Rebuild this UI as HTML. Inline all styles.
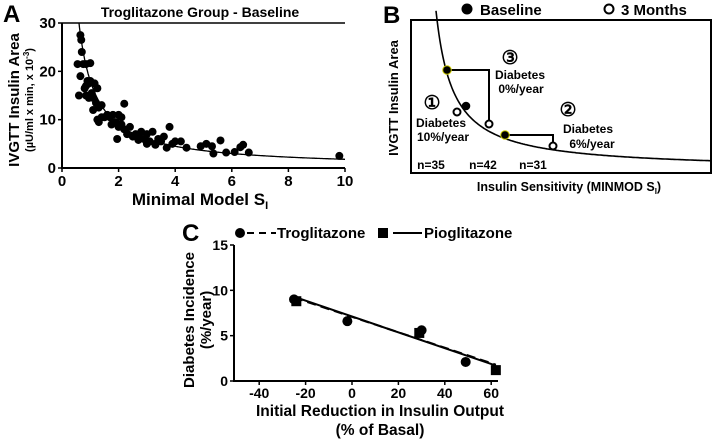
<!DOCTYPE html>
<html><head><meta charset="utf-8"><style>
body{margin:0;background:#fff;}
svg{display:block;font-family:"Liberation Sans",Arial,sans-serif;}
</style></head><body>
<svg id="fig" width="712" height="439" viewBox="0 0 712 439">
<!-- Panel A -->
<g id="pa">
<text x="3" y="22" font-size="24" font-weight="bold">A</text>
<text x="200" y="17" font-size="14" font-weight="bold" text-anchor="middle">Troglitazone Group - Baseline</text>
<path d="M62,23 V168 H345" fill="none" stroke="#000" stroke-width="2"/>
<line x1="62" y1="23" x2="345" y2="23" stroke="#000" stroke-width="1.5"/>
<g id="pa-ticks"></g>
<path id="pa-curve" fill="none" stroke="#000" stroke-width="1.3"/>
<g id="pa-pts"></g>
<text x="200" y="205" font-size="17" font-weight="bold" text-anchor="middle">Minimal Model S<tspan font-size="11" dy="4">I</tspan></text>
<text transform="translate(19,100) rotate(-90)" font-size="15" font-weight="bold" text-anchor="middle">IVGTT Insulin Area</text>
<text transform="translate(33,100) rotate(-90)" font-size="11" font-weight="bold" text-anchor="middle">(µU/ml x min, x 10<tspan font-size="8" dy="-4">-3</tspan><tspan dy="4">)</tspan></text>
</g>
<!-- Panel B -->
<g id="pb">
<text x="383" y="23" font-size="24" font-weight="bold">B</text>
<circle cx="467" cy="9" r="5.5" fill="#000"/>
<text x="480" y="15" font-size="15" font-weight="bold">Baseline</text>
<circle cx="609" cy="9" r="4.5" fill="#fff" stroke="#000" stroke-width="2"/>
<text x="621" y="15" font-size="15" font-weight="bold">3 Months</text>
<rect x="411" y="20" width="300" height="153" fill="none" stroke="#000" stroke-width="2"/>
<path id="pb-curve" fill="none" stroke="#000" stroke-width="1.6"/>
<path d="M447,70 H489 V124" fill="none" stroke="#000" stroke-width="2"/>
<path d="M505,135 H553 V146" fill="none" stroke="#000" stroke-width="2"/>
<circle cx="447" cy="70" r="4.3" fill="#000" stroke="#cc0" stroke-width="1"/>
<circle cx="466" cy="106" r="4.3" fill="#000"/>
<circle cx="505" cy="135" r="4.3" fill="#000" stroke="#cc0" stroke-width="1"/>
<circle cx="457" cy="112" r="3.5" fill="#fff" stroke="#000" stroke-width="2"/>
<circle cx="489" cy="124" r="3.5" fill="#fff" stroke="#000" stroke-width="2"/>
<circle cx="553" cy="146" r="3.5" fill="#fff" stroke="#000" stroke-width="2"/>
<g font-size="12" font-weight="bold" text-anchor="middle">
<text x="432" y="109" font-size="19">①</text>
<text x="441" y="127">Diabetes</text>
<text x="443" y="141">10%/year</text>
<text x="510" y="64" font-size="19">③</text>
<text x="520" y="79">Diabetes</text>
<text x="521" y="93">0%/year</text>
<text x="568" y="116" font-size="19">②</text>
<text x="588" y="133">Diabetes</text>
<text x="592" y="148">6%/year</text>
<text x="431" y="169">n=35</text>
<text x="483" y="169">n=42</text>
<text x="533" y="169">n=31</text>
</g>
<text x="569" y="191" font-size="12.5" font-weight="bold" text-anchor="middle">Insulin Sensitivity (MINMOD S<tspan font-size="8" dy="3">I</tspan><tspan dy="-3">)</tspan></text>
<text transform="translate(398,98) rotate(-90)" font-size="13" font-weight="bold" text-anchor="middle">IVGTT Insulin Area</text>
</g>
<!-- Panel C -->
<g id="pc">
<text x="182" y="241" font-size="24" font-weight="bold">C</text>
<circle cx="240" cy="233" r="5" fill="#000"/>
<line x1="247" y1="233" x2="276" y2="233" stroke="#000" stroke-width="2" stroke-dasharray="7,5"/>
<text x="277" y="238" font-size="15" font-weight="bold">Troglitazone</text>
<rect x="378" y="228" width="10" height="10" fill="#000"/>
<line x1="393" y1="233" x2="422" y2="233" stroke="#000" stroke-width="2"/>
<text x="424" y="238" font-size="15" font-weight="bold">Pioglitazone</text>
<path d="M234,245 V381 H498" fill="none" stroke="#000" stroke-width="2"/>
<g id="pc-ticks"></g>
<g id="pc-marks"></g>
<text x="380" y="416" font-size="15.5" font-weight="bold" text-anchor="middle">Initial Reduction in Insulin Output</text>
<text x="380" y="435" font-size="15.5" font-weight="bold" text-anchor="middle">(% of Basal)</text>
<text transform="translate(194,320) rotate(-90)" font-size="15" font-weight="bold" text-anchor="middle">Diabetes Incidence</text>
<text transform="translate(211,320) rotate(-90)" font-size="15" font-weight="bold" text-anchor="middle">(%/year)</text>
</g>
</svg>
<script>
// Panel A data
const aXTicks = [0, 2, 4, 6, 8, 10];
const aYTicks = [0, 10, 20, 30];
const aSi = [0.55,0.6,0.65,0.68,0.7,0.65,0.75,0.85,1.0,0.8,0.85,0.9,0.95,1.0,0.85,0.95,1.05,1.1,1.15,1.25,1.1,1.2,1.3,1.4,1.25,1.3,1.4,1.5,1.6,1.7,1.8,1.75,1.9,2.0,2.1,2.2,1.95,2.0,2.1,2.2,2.3,2.4,2.5,2.6,2.7,2.8,2.9,3.0,3.1,3.2,3.3,3.4,3.5,3.6,3.7,3.8,3.9,4.0,4.2,4.4,4.9,5.1,5.3,5.35,5.6,5.8,6.1,6.3,6.4,6.6,9.8,2.7,3.0,3.3];
const aArea = [21.5,15,27.5,26.5,24,19,21.5,21.5,21.7,16.5,17,18,17.5,18,15,14.5,15.5,14.5,17.5,16.5,12,13.5,12.5,13,10,9.5,10.5,10.5,11,10.5,11,9,9.5,11,10.5,13.3,6,8.5,9,8,7,8.5,6.5,7,6.5,7.5,6,7,5.5,7.5,5,6,5.5,6.5,4.2,8.5,5,5.5,5.5,4.2,4.5,5,4.5,3,5.7,3.2,3.3,4.3,4.8,3.2,2.5,5.8,5,4.8];
const aFitK = [18];
// Panel C data
const cXTicks = [-40, -20, 0, 20, 40, 60];
const cYTicks = [0, 5, 10, 15];
const trogX = [-25, -2, 30, 49];
const trogY = [9.0, 6.6, 5.6, 2.1];
const pioX = [-24, 29, 62];
const pioY = [8.8, 5.3, 1.2];
const trogLineX = [-25, 62];
const trogLineY = [9.2, 1.8];
const pioLineX = [-25, 62];
const pioLineY = [9.3, 1.7];

const NS = 'http://www.w3.org/2000/svg';
function mk(tag, attrs, parent) {
  const e = document.createElementNS(NS, tag);
  for (const k in attrs) e.setAttribute(k, attrs[k]);
  parent.appendChild(e);
  return e;
}
const ax = v => 62 + v * 28.3;
const ay = v => 168 - v * (145 / 30);
const cx = v => 352 + v * 2.32;
const cy = v => 381 - v * (136 / 15);

const paT = document.getElementById('pa-ticks');
aXTicks.forEach(t => {
  const l = mk('line', {x1: ax(t), x2: ax(t), y1: 168, y2: 172, stroke: '#000', 'stroke-width': 1.5}, paT);
  
  
  const tx = mk('text', {x: ax(t), y: 186, 'font-size': 15, 'font-weight': 'bold', 'text-anchor': 'middle'}, paT);
  tx.textContent = t;
  
  
});
aYTicks.forEach(t => {
  const l = mk('line', {x1: 58, x2: 62, y1: ay(t), y2: ay(t), stroke: '#000', 'stroke-width': 1.5}, paT);
  
  
  const tx = mk('text', {x: 56, y: ay(t) + 5, 'font-size': 15, 'font-weight': 'bold', 'text-anchor': 'end'}, paT);
  tx.textContent = t;
  
  
});
let d = '';
for (let x = aFitK[0] / 30; x <= 10; x += 0.02) d += (d ? 'L' : 'M') + ax(x).toFixed(1) + ',' + ay(aFitK[0] / x).toFixed(1);
document.getElementById('pa-curve').setAttribute('d', d);
const paP = document.getElementById('pa-pts');
aSi.forEach((x, i) => {
  const c = mk('circle', {cx: ax(x), cy: ay(aArea[i]), r: 4, fill: '#000'}, paP);
  
  
});

// Panel B curve
let db = '';
for (let x = 436; x <= 711; x += 1) db += (db ? 'L' : 'M') + x + ',' + (170 - 2707 / (x - 419)).toFixed(1);
document.getElementById('pb-curve').setAttribute('d', db);

// Panel C
const pcT = document.getElementById('pc-ticks');
cXTicks.forEach(t => {
  const l = mk('line', {x1: cx(t), x2: cx(t), y1: 381, y2: 385, stroke: '#000', 'stroke-width': 1.5}, pcT);
  
  
  const tx = mk('text', {x: cx(t), y: 398, 'font-size': 14, 'font-weight': 'bold', 'text-anchor': 'middle'}, pcT);
  tx.textContent = t;
  
  
});
cYTicks.forEach(t => {
  const l = mk('line', {x1: 230, x2: 234, y1: cy(t), y2: cy(t), stroke: '#000', 'stroke-width': 1.5}, pcT);
  
  
  const tx = mk('text', {x: 228, y: cy(t) + 5, 'font-size': 14, 'font-weight': 'bold', 'text-anchor': 'end'}, pcT);
  tx.textContent = t;
  
  
});
const pcM = document.getElementById('pc-marks');
const tl = mk('line', {x1: cx(trogLineX[0]), y1: cy(trogLineY[0]), x2: cx(trogLineX[1]), y2: cy(trogLineY[1]), stroke: '#000', 'stroke-width': 2, 'stroke-dasharray': '9,5'}, pcM);


const pl = mk('line', {x1: cx(pioLineX[0]), y1: cy(pioLineY[0]), x2: cx(pioLineX[1]), y2: cy(pioLineY[1]), stroke: '#000', 'stroke-width': 2}, pcM);


trogX.forEach((x, i) => {
  const c = mk('circle', {cx: cx(x), cy: cy(trogY[i]), r: 5, fill: '#000'}, pcM);
  
  
});
pioX.forEach((x, i) => {
  const r = mk('rect', {x: cx(x) - 5, y: cy(pioY[i]) - 5, width: 10, height: 10, fill: '#000'}, pcM);
  
  
});
</script>
</body></html>
